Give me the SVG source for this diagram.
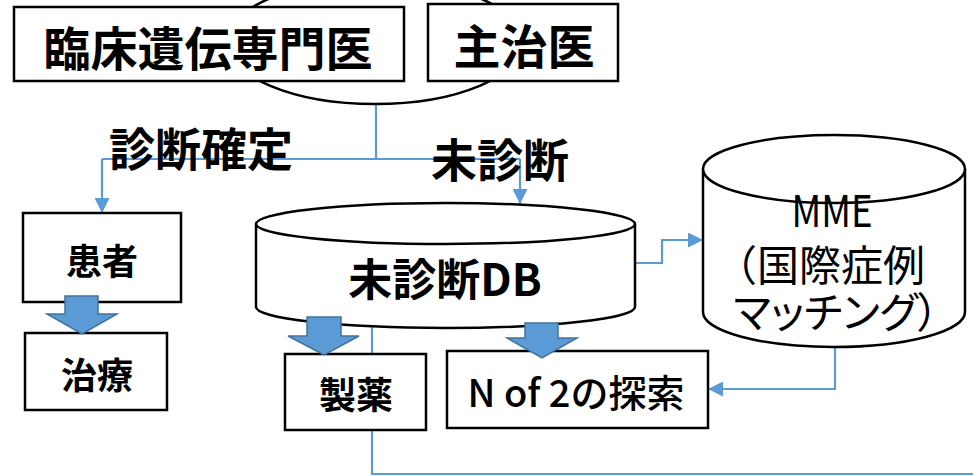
<svg xmlns="http://www.w3.org/2000/svg" width="973" height="476" viewBox="0 0 973 476">
<defs>
<style>
.box{fill:#fff;stroke:#000;stroke-width:2.5}
.cyl{fill:#fff;stroke:#000;stroke-width:2.5}
.con{fill:none;stroke:#5B9BD5;stroke-width:2.2}
.blk{fill:#5B9BD5;stroke:#41719C;stroke-width:1.5}
.t{font-family:"Noto Sans CJK JP","Noto Sans",sans-serif;fill:#000;text-anchor:middle;font-weight:bold}
.r{font-weight:normal}
.m{font-weight:500}
</style>
<marker id="ah" viewBox="0 0 15 15" refX="15" refY="7.5" markerWidth="15" markerHeight="15" markerUnits="userSpaceOnUse" orient="auto">
<path d="M0,0 L15,7.5 L0,15 z" fill="#5B9BD5"/>
</marker>
</defs>
<rect width="973" height="476" fill="#fff"/>

<g id="connectors">
<path class="con" d="M376,104 V159"/>
<path class="con" d="M102,159 H520"/>
<path class="con" d="M102,159 V213" marker-end="url(#ah)"/>
<path class="con" d="M520,159 V204" marker-end="url(#ah)"/>
<path class="con" d="M636,263 H662 V240 H703" marker-end="url(#ah)"/>
<path class="con" d="M835,347 V389 H708" marker-end="url(#ah)"/>
<path class="con" d="M372,326 V474 H973"/>
</g>

<g id="doctors-ellipse">
<ellipse cx="375" cy="42" rx="148" ry="62" fill="#fff" stroke="#000" stroke-width="2.5"/>
</g>

<g id="node-geneticist">
<rect class="box" x="14" y="7" width="390" height="74"/>
<text class="t" x="208" y="66" font-size="47">臨床遺伝専門医</text>
</g>

<g id="node-physician">
<rect class="box" x="428" y="4" width="190" height="77"/>
<text class="t" x="524" y="64" font-size="47">主治医</text>
</g>

<g id="label-confirmed">
<text class="t" x="201" y="166" font-size="46">診断確定</text>
</g>
<g id="label-undiagnosed">
<text class="t" x="500" y="177" font-size="46">未診断</text>
</g>

<g id="node-patient">
<rect class="box" x="23" y="213" width="158" height="89"/>
<text class="t" x="102" y="275" font-size="36">患者</text>
</g>

<g id="node-treatment">
<rect class="box" x="25" y="333" width="142" height="77"/>
<text class="t" x="97" y="389" font-size="36">治療</text>
</g>

<g id="node-pharma">
<rect class="box" x="285" y="354" width="141" height="76"/>
<text class="t" x="356" y="409" font-size="37">製薬</text>
</g>

<g id="node-nof2">
<rect class="box" x="447" y="351" width="261" height="77"/>
<text class="t m" x="576" y="407" font-size="38">N of 2の探索</text>
</g>

<g id="node-db">
<path class="cyl" d="M256,224 V307 A189.5,21 0 0 0 635,307 V224 A189.5,21 0 0 0 256,224 Z"/>
<path class="cyl" fill="none" d="M256,224 A189.5,20 0 0 0 635,224"/>
<text class="t" x="445" y="296" font-size="44">未診断DB</text>
</g>

<g id="node-mme">
<path class="cyl" d="M703,169 V312 A131,35 0 0 0 965,312 V169 A131,34 0 0 0 703,169 Z"/>
<path class="cyl" fill="none" d="M703,169 A131,34 0 0 0 965,169"/>
<text class="t r" x="832" y="227" font-size="44" textLength="81" lengthAdjust="spacingAndGlyphs">MME</text>
<text class="t r" x="820" y="281" font-size="42">（国際症例</text>
<text class="t r" x="836" y="328" font-size="42" style="font-feature-settings:'palt'">マッチング）</text>
</g>

<g id="block-arrows">
<polygon class="blk" points="65,296 98,296 98,314 117,314 82,334 47,314 65,314"/>
<polygon class="blk" points="307,317 341,317 341,336 359,336 324,355 288,336 307,336"/>
<polygon class="blk" points="525,323 558,323 558,338 577,338 542,358 507,338 525,338"/>
</g>
</svg>
